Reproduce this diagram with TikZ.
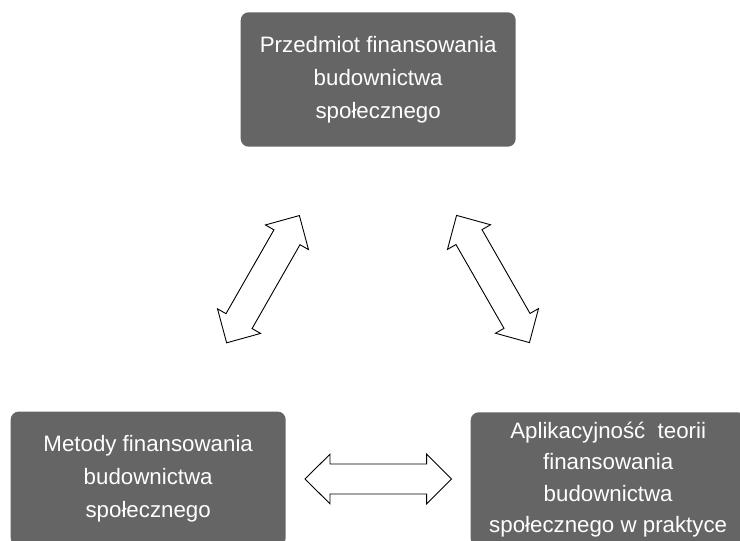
\documentclass[tikz,border=0pt]{standalone}
\usepackage{fontspec}
\setmainfont{Liberation Sans}
\definecolor{boxgray}{RGB}{101,101,101}
\newcommand\dblarr[2]{%
  \draw[dbl, shift={(#1)}, rotate=#2]
    (-73.3,0) -- (-48.3,24.8) -- (-48.3,15) -- (48.3,15) -- (48.3,24.8) --
    (73.3,0) -- (48.3,-24.8) -- (48.3,-15) -- (-48.3,-15) -- (-48.3,-24.8) -- cycle;}
\begin{document}
\begin{tikzpicture}[x=1pt,y=1pt,
  box/.style={draw=none, fill=boxgray, rounded corners=8pt, minimum width=275pt,
    minimum height=134.4pt, inner sep=0pt, text=white, align=center,
    font=\fontsize{22.3}{33}\selectfont},
  dbl/.style={draw=black, line width=0.9pt, fill=white, line join=miter}]
\useasboundingbox (0,0) rectangle (740,541);
\node[box] (top) at (378.2,461.5) {Przedmiot finansowania\\budownictwa\\społecznego};
\node[box] (left) at (148.2,62.2) {Metody finansowania\\budownictwa\\społecznego};
\node[box, font=\fontsize{22.3}{31.3}\selectfont] (right) at (608.2,61.5)
  {Aplikacyjność\ \ teorii\\finansowania\\budownictwa\\społecznego w praktyce};
\coordinate (arrL) at (263,261.8);
\coordinate (arrR) at (493,262);
\coordinate (arrB) at (378.3,62);
\dblarr{arrL}{60.25}
\dblarr{arrR}{119.8}
\dblarr{arrB}{0}
\end{tikzpicture}
\end{document}
